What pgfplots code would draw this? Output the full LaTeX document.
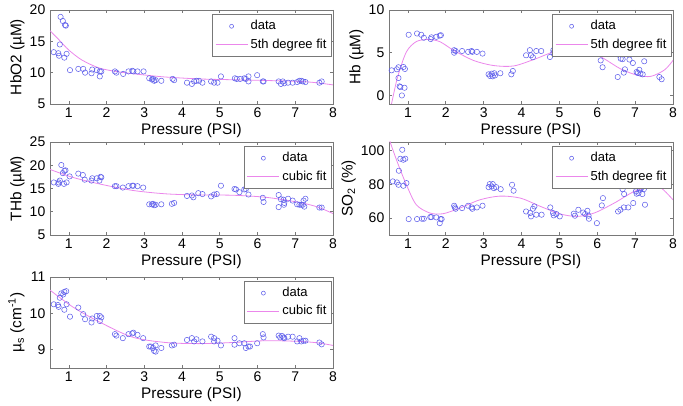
\documentclass[border=0pt]{standalone}
\usepackage{fontspec}
\setmainfont{Liberation Sans}
\setsansfont{Liberation Sans}
\usepackage{pgfplots}
\pgfplotsset{compat=1.18}

\definecolor{dotblue}{RGB}{95,95,235}
\definecolor{fitmag}{RGB}{235,135,235}
\definecolor{boxgray}{RGB}{120,120,120}

\pgfplotsset{
  panel/.style={
    scale only axis,
    width=212.25pt,
    xmin=0.5, xmax=8,
    xtick={1,2,3,4,5,6,7,8},
    tick align=inside,
    major tick length=2.25pt,
    axis line style={boxgray, line width=0.5pt},
    every tick/.style={boxgray, line width=0.5pt},
    /pgf/number format/assume math mode=true,
    tick label style={font=\fontsize{10.5}{12}\selectfont},
    label style={font=\fontsize{11.5}{13}\selectfont},
    xlabel={Pressure (PSI)},
    xlabel style={yshift=2pt},
    ylabel style={yshift=-3pt},
    xticklabel style={yshift=1pt},
    legend style={draw=boxgray, line width=0.5pt, fill=white,
      font=\fontsize{9.75}{11}\selectfont,
      at={(0.997,0.955)}, anchor=north east,
      inner xsep=2pt, inner ysep=2.5pt, row sep=1pt},
    legend cell align=left,
  },
  pts/.style={only marks, mark=o, mark size=2pt, color=dotblue, line width=0.4pt},
  fit/.style={no marks, color=fitmag, line width=0.6pt, smooth},
  legend image code/.code={
    \draw[mark repeat=2, mark phase=2, mark size=1.5pt, #1]
      plot coordinates {(0cm,0cm) (0.42cm,0cm) (0.84cm,0cm)};},
}

\begin{document}
\begin{tikzpicture}
\useasboundingbox (0,0) rectangle (512.25pt,304.5pt);

% ---------- HbO2 ----------
\begin{axis}[panel, at={(37.5pt,297pt)}, anchor=north west, height=70.5pt,
  ymin=5, ymax=20, ytick={5,10,15,20}, ylabel={HbO2 (µM)}]
\addplot[pts] coordinates {
(0.60,13.27)(0.72,13.1)(0.74,12.7)(0.78,18.9)(0.84,18.25)(0.90,17.6)(0.92,17.5)
(0.76,14.5)(0.88,12.4)(0.94,13.0)(1.03,10.4)(1.25,10.6)(1.38,10.6)(1.43,10.0)
(1.60,9.9)(1.62,10.5)(1.74,10.4)(1.82,10.2)(1.86,10.2)(1.82,9.4)(2.22,10.2)
(2.26,10.0)(2.44,9.8)(2.58,10.2)(2.68,10.3)(2.71,10.2)(2.82,10.2)(2.98,10.2)
(3.13,9.1)(3.20,8.9)(3.23,9.0)(3.26,8.7)(3.30,8.8)(3.45,8.7)(3.75,9.0)(3.79,8.8)
(4.13,8.4)(4.26,8.2)(4.32,8.6)(4.38,8.7)(4.45,8.7)(4.54,8.4)(4.77,8.6)(4.85,8.4)
(4.94,8.4)(5.03,9.4)(5.40,9.1)(5.45,9.0)(5.54,9.0)(5.65,9.1)(5.69,9.0)(5.76,9.4)
(5.76,8.6)(5.99,9.6)(6.14,8.6)(6.16,8.6)(6.56,8.6)(6.62,8.2)(6.67,8.6)(6.71,8.3)
(6.81,8.4)(6.93,8.4)(7.05,8.5)(7.11,8.7)(7.16,8.7)(7.20,8.6)(7.27,8.5)(7.64,8.4)
(7.70,8.6)
};
\addlegendentry{data}
\addplot[fit] coordinates {
(0.5,16.7)(0.73,15.3)(1,13.6)(1.35,12.0)(1.8,10.75)(2.24,10.2)(2.68,9.85)
(3.13,9.55)(3.57,9.3)(4.45,9.0)(5.34,8.87)(6.23,8.75)(7.11,8.6)(7.55,8.4)(8,8.05)
};
\addlegendentry{5th degree fit}
\end{axis}

% ---------- Hb ----------
\begin{axis}[panel, at={(291.75pt,297pt)}, anchor=north west, height=70.5pt,
  width=213pt, ymin=-1, ymax=10, ytick={0,5,10}, ylabel={Hb (µM)}]
\addplot[pts] coordinates {
(0.57,2.94)(0.71,3.06)(0.75,3.3)(0.75,2.04)(0.78,1.06)(0.80,0.98)(0.84,0)
(0.88,3.33)(0.91,0.9)(0.92,3.1)(1.02,7.1)(1.24,7.25)(1.35,7.1)(1.42,6.75)
(1.60,6.6)(1.62,6.8)(1.75,6.86)(1.84,7.0)(1.87,7.05)(2.22,5.3)(2.22,5.0)
(2.26,5.2)(2.43,5.2)(2.59,5.1)(2.68,5.2)(2.70,5.1)(2.82,5.1)(2.97,4.9)
(3.13,2.47)(3.17,2.27)(3.21,2.55)(3.24,2.24)(3.30,2.35)(3.28,2.6)(3.44,2.6)
(3.73,2.47)(3.77,2.86)(4.12,4.7)(4.22,5.3)(4.25,4.7)(4.30,4.47)(4.39,5.2)
(4.52,5.2)(4.75,4.5)(4.84,5.3)(4.84,5.0)(4.92,5.0)(5.38,5.4)(5.41,5.7)(5.50,5.0)
(5.63,5.4)(5.69,5.4)(5.74,4.9)(5.78,5.3)(6.09,4.1)(6.14,3.3)(6.54,4.8)(6.54,2.16)
(6.62,4.3)(6.67,4.25)(6.70,2.67)(6.73,3.06)(6.85,4.2)(6.94,3.8)(7.04,2.75)
(7.07,2.63)(7.11,3.0)(7.14,2.55)(7.20,2.47)(7.24,4.0)(7.64,2.16)(7.70,1.9)
};
\addlegendentry{data}
\addplot[fit] coordinates {
(0.5,-2.2)(0.57,-0.9)(0.73,2.2)(0.96,5.1)(1.22,6.3)(1.53,6.55)(1.84,6.3)(2.2,5.3)
(2.73,4.1)(3.26,3.5)(3.79,3.45)(4.32,4.2)(4.85,5.1)(5.38,5.57)(5.74,5.3)(6.18,4.3)
(6.62,3.1)(7.07,2.35)(7.42,2.24)(7.78,3.0)(8,4.1)
};
\addlegendentry{5th degree fit}
\end{axis}

% ---------- THb ----------
\begin{axis}[panel, at={(37.5pt,198pt)}, anchor=north west, height=69.75pt,
  ymin=5, ymax=25, ytick={5,10,15,20,25}, ylabel={THb (µM)}]
\addplot[pts] coordinates {
(0.60,16.3)(0.72,16.0)(0.73,16.3)(0.76,16.7)(0.80,20.05)(0.84,18.3)(0.88,18.8)
(0.91,18.9)(0.87,16.0)(0.94,16.3)(1.02,17.6)(1.25,18.2)(1.37,17.9)(1.42,16.9)
(1.60,16.7)(1.62,17.2)(1.74,17.2)(1.84,17.5)(1.86,17.4)(1.81,16.7)(2.22,15.5)
(2.26,15.5)(2.43,15.2)(2.58,15.5)(2.68,15.6)(2.71,15.6)(2.82,15.5)(2.97,15.2)
(3.13,11.6)(3.20,11.6)(3.23,11.7)(3.26,11.4)(3.30,11.5)(3.45,11.6)(3.73,11.7)
(3.79,11.9)(4.13,13.4)(4.26,13.5)(4.30,13.1)(4.43,14.0)(4.54,13.8)(4.77,13.3)
(4.85,13.7)(4.92,13.8)(5.03,15.6)(5.39,14.9)(5.43,14.8)(5.52,14.2)(5.65,14.8)
(5.69,14.9)(5.76,16.0)(5.76,13.7)(5.99,16.9)(6.14,13.0)(6.16,12.1)(6.56,13.6)
(6.56,11.0)(6.62,12.7)(6.69,12.6)(6.70,11.5)(6.71,11.9)(6.81,12.8)(6.93,12.4)
(7.05,11.6)(7.11,11.5)(7.16,11.5)(7.20,11.5)(7.22,12.4)(7.24,11.1)(7.27,12.8)
(7.64,10.9)(7.70,10.9)
};
\addlegendentry{data}
\addplot[fit] coordinates {
(0.5,19.1)(1.1,17.4)(1.8,16.0)(2.68,14.6)(3.57,13.85)(4.45,13.6)(5.34,13.55)
(6.23,13.1)(7.11,12.0)(7.6,11.0)(8,9.6)
};
\addlegendentry{cubic fit}
\end{axis}

% ---------- SO2 ----------
\begin{axis}[panel, at={(291.75pt,198pt)}, anchor=north west, height=69.75pt,
  width=213pt, ymin=50, ymax=105, ytick={60,80,100},
  ylabel={SO\textsubscript{2} (\%)}]
\addplot[pts] coordinates {
(0.60,81.7)(0.71,81.1)(0.75,79.7)(0.76,88.0)(0.80,95.1)(0.85,100.4)(0.88,94.5)
(0.93,95.1)(0.88,79.1)(0.96,80.7)(1.02,59.4)(1.24,59.4)(1.37,59.6)(1.42,59.6)
(1.59,60.6)(1.62,60.6)(1.75,60.4)(1.84,57.0)(1.86,59.4)(1.89,59.4)(2.22,67.3)
(2.24,66.3)(2.26,65.5)(2.43,65.9)(2.59,67.3)(2.68,66.3)(2.70,65.5)(2.82,66.3)
(2.97,67.3)(3.13,78.3)(3.16,80.1)(3.21,78.7)(3.24,80.1)(3.27,77.7)(3.33,78.3)
(3.45,77.1)(3.75,79.7)(3.79,76.2)(4.12,63.9)(4.23,63.0)(4.25,61.0)(4.30,65.5)
(4.34,66.9)(4.39,62.0)(4.53,62.0)(4.76,66.3)(4.83,63.0)(4.85,61.6)(4.92,62.4)
(5.01,61.0)(5.38,62.6)(5.41,61.4)(5.50,64.9)(5.63,63.3)(5.68,62.4)(5.74,64.3)
(5.77,61.4)(5.78,59.6)(5.99,57.0)(6.12,67.5)(6.15,71.8)(6.54,80.1)(6.55,63.9)
(6.61,64.9)(6.67,77.1)(6.71,74.2)(6.70,66.3)(6.82,66.3)(6.95,68.9)(7.02,75.8)
(7.04,74.4)(7.09,74.8)(7.13,76.8)(7.16,77.7)(7.19,74.2)(7.23,77.1)(7.26,67.9)
(7.64,79.3)(7.70,81.3)
};
\addlegendentry{data}
\addplot[fit] coordinates {
(0.5,108)(0.53,105)(0.73,92.5)(0.96,79.7)(1.22,67.9)(1.58,63.0)(1.93,62.6)
(2.37,65.9)(2.9,70.8)(3.43,73.0)(3.97,71.8)(4.5,66.9)(5.03,62.4)(5.47,61.0)
(5.92,63.0)(6.45,68.9)(6.98,75.8)(7.42,78.3)(7.69,77.7)(8,70.8)
};
\addlegendentry{5th degree fit}
\end{axis}

% ---------- mu_s ----------
\begin{axis}[panel, at={(37.5pt,96.75pt)}, anchor=north west, height=68.25pt,
  ymin=8.5, ymax=11, ytick={9,10,11},
  ylabel={µ\textsubscript{s} (cm\textsuperscript{-1})}]
\addplot[pts] coordinates {
(0.60,10.25)(0.71,10.23)(0.73,10.18)(0.76,10.43)(0.80,10.55)(0.85,10.52)
(0.88,10.59)(0.93,10.61)(0.88,10.10)(0.94,10.25)(1.03,9.91)(1.25,10.16)
(1.38,9.98)(1.43,9.84)(1.60,9.75)(1.62,9.86)(1.74,9.93)(1.82,9.93)(1.86,9.89)
(1.82,9.79)(2.22,9.43)(2.26,9.39)(2.43,9.32)(2.58,9.43)(2.68,9.45)(2.71,9.47)
(2.82,9.41)(2.97,9.32)(3.13,9.09)(3.17,9.09)(3.23,9.05)(3.26,8.97)(3.30,9.12)
(3.30,8.95)(3.45,9.05)(3.73,9.12)(3.79,9.14)(4.13,9.27)(4.26,9.32)(4.32,9.23)
(4.38,9.29)(4.54,9.23)(4.77,9.36)(4.85,9.32)(4.85,9.23)(4.94,9.25)(5.03,9.12)
(5.39,9.32)(5.39,9.14)(5.52,9.18)(5.65,9.18)(5.69,9.05)(5.76,9.09)(5.80,9.09)
(5.99,9.18)(6.14,9.43)(6.16,9.34)(6.56,9.39)(6.60,9.34)(6.65,9.38)(6.69,9.34)
(6.71,9.32)(6.81,9.36)(6.93,9.36)(7.05,9.23)(7.11,9.32)(7.16,9.23)(7.22,9.25)
(7.27,9.25)(7.64,9.20)(7.70,9.15)
};
\addlegendentry{data}
\addplot[fit] coordinates {
(0.5,10.64)(1.1,10.18)(1.8,9.77)(2.68,9.35)(3.57,9.2)(4.45,9.17)(5.34,9.2)
(6.23,9.25)(7.11,9.23)(7.6,9.19)(8,9.12)
};
\addlegendentry{cubic fit}
\end{axis}
\end{tikzpicture}
\end{document}
